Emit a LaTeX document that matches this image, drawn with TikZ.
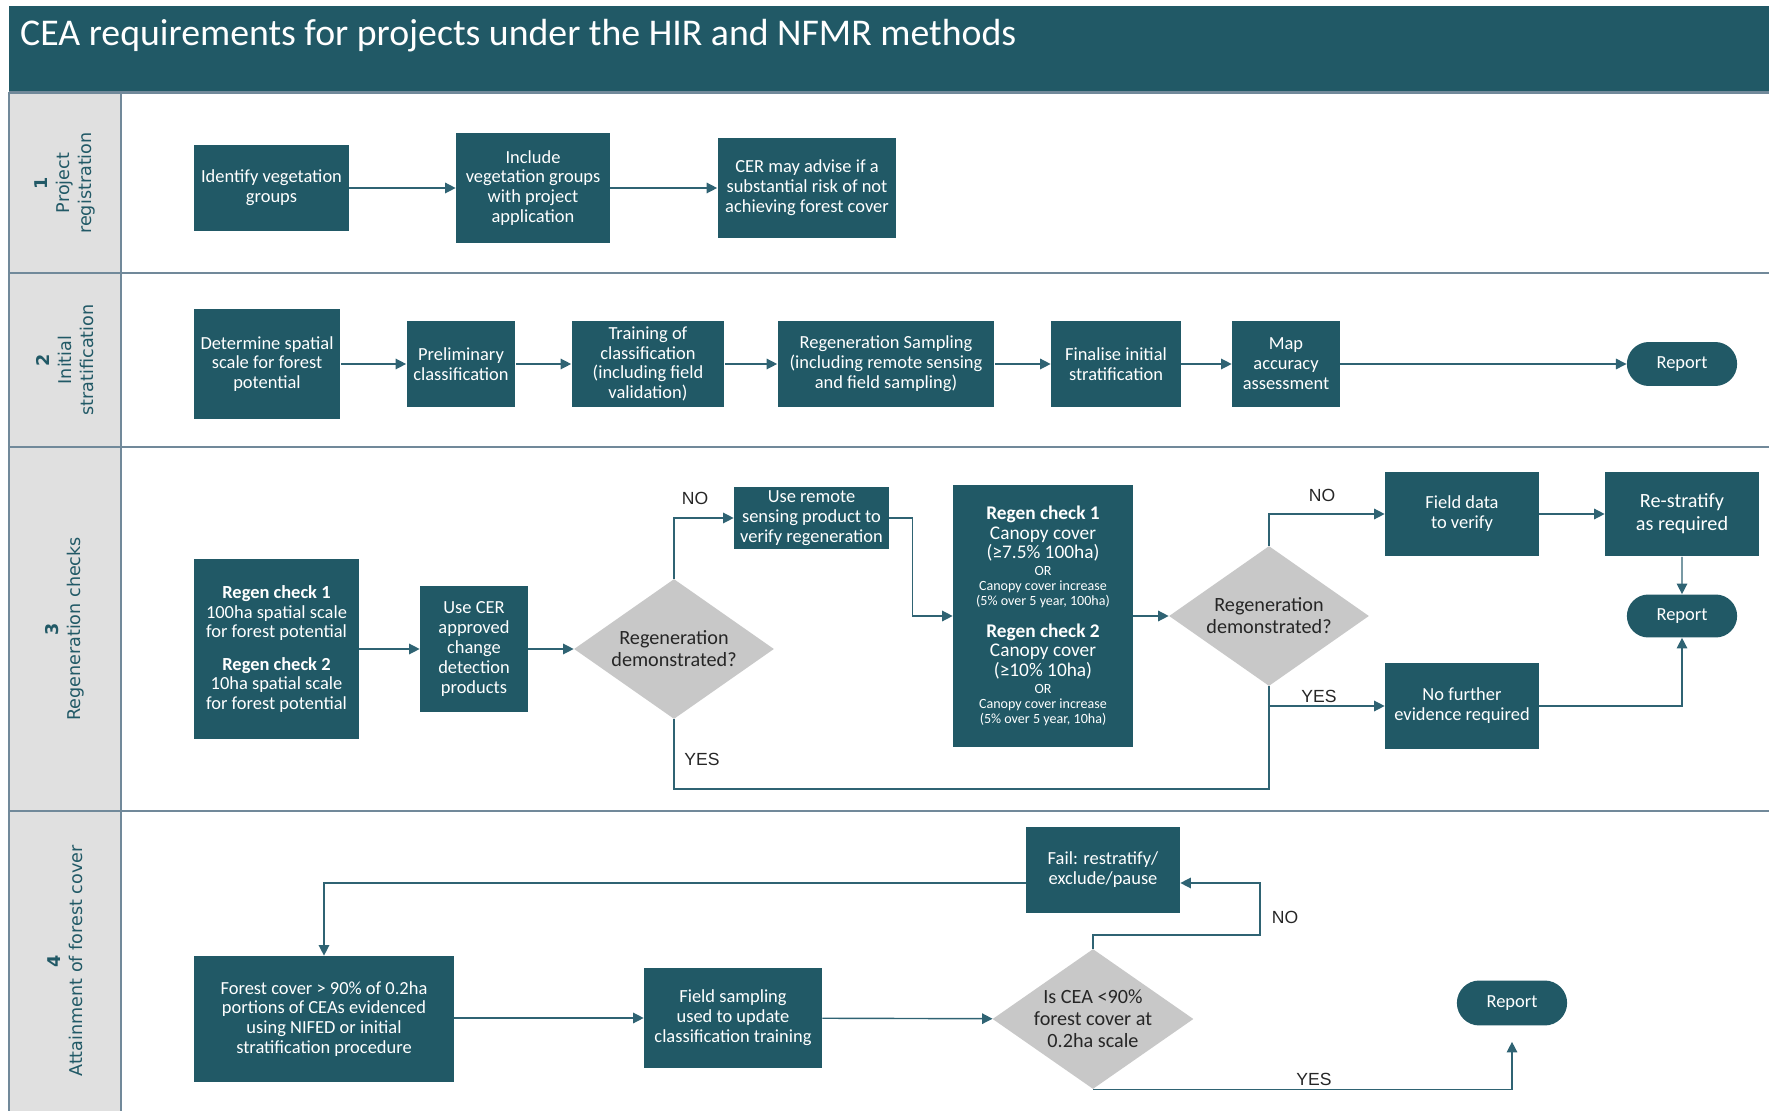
\documentclass[tikz,border=0pt]{standalone}
\usepackage{fontspec}
\setmainfont{Carlito}
\newfontfamily\lanefont{DejaVu Sans}
\newfontfamily\tagfont{Liberation Sans}
\usetikzlibrary{arrows.meta, shapes.geometric, shapes.misc}
\definecolor{cTeal}{HTML}{215966}
\definecolor{cLine}{HTML}{2F6373}
\definecolor{cLane}{HTML}{71899A}
\definecolor{cSide}{HTML}{E0E0E0}
\definecolor{cDiam}{HTML}{C8C8C8}
\definecolor{cInk}{HTML}{262626}
\newcommand{\smalltxt}[1]{{\fontsize{8}{8}\selectfont #1}}

\begin{document}
\begin{tikzpicture}[x=0.02cm, y=-0.02cm,
  stepbox/.style={rectangle, fill=cTeal, text=white, align=center, inner sep=1pt,
                  font=\fontsize{10.5}{11.3}\selectfont},
  decision/.style={diamond, shape aspect=1.43, fill=cDiam, text=cInk, align=center,
                   inner sep=0pt, minimum width=4cm, minimum height=2.8cm,
                   font=\fontsize{11.5}{12.5}\selectfont},
  report/.style={rounded rectangle, fill=cTeal, text=white, minimum width=2.44cm,
                 minimum height=0.88cm, font=\fontsize{10.5}{12}\selectfont},
  flow/.style={draw=cLine, line width=0.8pt, -{Triangle[length=6pt, width=6pt]}},
  conn/.style={draw=cLine, line width=0.8pt},
  tag/.style={font=\tagfont\fontsize{10}{12}\selectfont, text=cInk},
  lane/.style={rotate=90, align=center, text=cTeal,
               font=\lanefont\fontsize{10}{12.5}\selectfont},
]
  \useasboundingbox (0,0) rectangle (1769,1111);

  % title bar and swimlanes
  \fill[cTeal] (9,6) rectangle (1769,92.5);
  \node[anchor=west, text=white, font=\fontsize{21.5}{24}\selectfont] (title) at (14,36)
    {CEA requirements for projects under the HIR and NFMR methods};
  \fill[cSide] (9,92.5) rectangle (121,1111);
  \foreach \y in {92.5,273,447,811}
    \draw[cLane, line width=1.6pt] (9,\y) -- (1769,\y);
  \draw[cLane, line width=1.2pt] (9,92.5) -- (9,1111) (121,92.5) -- (121,1111);

  \node[lane] (lane1) at (65,183) {\textbf{1}\\Project\\registration};
  \node[lane] (lane2) at (65,360) {\textbf{2}\\Initial\\stratification};
  \node[lane] (lane3) at (65,629) {\textbf{3}\\Regeneration checks};
  \node[lane] (lane4) at (65,961) {\textbf{4}\\Attainment of forest cover};

  % 1 project registration
  \node[stepbox, minimum width=3.1cm, minimum height=1.74cm] (reg1) at (271.5,188)
    {Identify vegetation\\groups};
  \node[stepbox, minimum width=3.08cm, minimum height=2.2cm] (reg2) at (533,188)
    {Include\\vegetation groups\\with project\\application};
  \node[stepbox, minimum width=3.58cm, minimum height=2cm] (reg3) at (807,188)
    {CER may advise if a\\substantial risk of not\\achieving forest cover};
  \draw[flow] (reg1) -- (reg2);
  \draw[flow] (reg2) -- (reg3);

  % 2 initial stratification
  \node[stepbox, minimum width=2.94cm, minimum height=2.2cm] (strat1) at (267,364)
    {Determine spatial\\scale for forest\\potential};
  \node[stepbox, minimum width=2.18cm, minimum height=1.74cm] (strat2) at (461,364)
    {Preliminary\\classification};
  \node[stepbox, minimum width=3.06cm, minimum height=1.74cm] (strat3) at (648,364)
    {Training of\\classification\\(including field\\validation)};
  \node[stepbox, minimum width=4.34cm, minimum height=1.74cm] (strat4) at (886,364)
    {Regeneration Sampling\\(including remote sensing\\and field sampling)};
  \node[stepbox, minimum width=2.6cm, minimum height=1.74cm] (strat5) at (1116,364)
    {Finalise initial\\stratification};
  \node[stepbox, minimum width=2.16cm, minimum height=1.74cm] (strat6) at (1286,364)
    {Map\\accuracy\\assessment};
  \node[report] (strat7) at (1682,364) {Report};
  \foreach \a/\b in {strat1/strat2, strat2/strat3, strat3/strat4, strat4/strat5,
                     strat5/strat6, strat6/strat7}
    \draw[flow] (\a) -- (\b);

  % 3 regeneration checks
  \node[stepbox, minimum width=3.3cm, minimum height=3.62cm] (chk1) at (276.5,649)
    {\textbf{Regen check 1}\\100ha spatial scale\\for forest potential\\[7pt]
     \textbf{Regen check 2}\\10ha spatial scale\\for forest potential};
  \node[stepbox, minimum width=2.16cm, minimum height=2.52cm] (chk2) at (474,649)
    {Use CER\\approved\\change\\detection\\products};
  \node[decision] (chk3) at (674,649) {Regeneration\\demonstrated?};
  \node[stepbox, minimum width=3.1cm, minimum height=1.26cm] (chk4) at (811.5,518)
    {Use remote\\sensing product to\\verify regeneration};
  \node[stepbox, minimum width=3.6cm, minimum height=5.26cm,
        font=\fontsize{11}{11}\selectfont] (chk5) at (1043,616)
    {\textbf{Regen check 1}\\Canopy cover\\(≥7.5\% 100ha)\\[-1pt]
     \smalltxt{OR}\\[-2.5pt]\smalltxt{Canopy cover increase}\\[-2.5pt]
     \smalltxt{(5\% over 5 year, 100ha)}\\[7pt]
     \textbf{Regen check 2}\\Canopy cover\\(≥10\% 10ha)\\[-1pt]
     \smalltxt{OR}\\[-2.5pt]\smalltxt{Canopy cover increase}\\[-2.5pt]
     \smalltxt{(5\% over 5 year, 10ha)}};
  \node[decision] (chk6) at (1269,616) {Regeneration\\demonstrated?};
  \node[stepbox, minimum width=3.08cm, minimum height=1.7cm] (chk7) at (1462,514)
    {Field data\\to verify};
  \node[stepbox, minimum width=3.08cm, minimum height=1.7cm,
        font=\fontsize{11.5}{13}\selectfont] (chk8) at (1682,514)
    {Re-stratify\\as required};
  \node[report, minimum height=0.86cm] (chk9) at (1682,616) {Report};
  \node[stepbox, minimum width=3.08cm, minimum height=1.72cm] (chk10) at (1462,706)
    {No further\\evidence required};

  \draw[flow] (chk1) -- (chk2);
  \draw[flow] (chk2) -- (chk3);
  \draw[flow] (chk3.north) |- (chk4.west);
  \draw[conn] (chk3.south) |- (1269,789) -- (chk6.south |- chk10.west);
  \draw[flow] (chk4.east) -- ++(23,0) |- (chk5.west);
  \draw[flow] (chk5) -- (chk6);
  \draw[flow] (chk6.north) |- (chk7.west);
  \draw[flow] (chk6.south) |- (chk10.west);
  \draw[flow] (chk7) -- (chk8);
  \draw[flow] (chk8) -- (chk9);
  \draw[flow] (chk10.east) -| (chk9.south);
  \node[tag] (no1) at (695,498) {NO};
  \node[tag] (yes1) at (702,759) {YES};
  \node[tag] (no2) at (1322,495) {NO};
  \node[tag] (yes2) at (1319,696) {YES};

  % 4 attainment of forest cover
  \node[stepbox, minimum width=5.2cm, minimum height=2.52cm] (att1) at (324,1019)
    {Forest cover > 90\% of 0.2ha\\portions of CEAs evidenced\\using NIFED or initial\\stratification procedure};
  \node[stepbox, minimum width=3.56cm, minimum height=2cm] (att2) at (733,1018)
    {Field sampling\\used to update\\classification training};
  \node[decision, minimum width=4.02cm, inner sep=-3pt] (att3) at (1093,1019)
    {Is CEA <90\%\\forest cover at\\0.2ha scale};
  \node[stepbox, minimum width=3.08cm, minimum height=1.72cm] (att4) at (1103,870)
    {Fail: restratify/\\exclude/pause};
  \node[report, minimum width=2.44cm, minimum height=0.9cm] (att5) at (1512,1003) {Report};

  \draw[flow] (att1.east |- att2) -- (att2);
  \draw[flow] (att2) -- (att3);
  \draw[flow] (att3.north) |- (1260,935) |- ([yshift=-0.26cm]att4.east);
  \draw[flow] ([yshift=-0.26cm]att4.west) -| (att1.north);
  \draw[flow] (att3.south) -| ([yshift=-0.32cm]att5.south);
  \node[tag] (no3) at (1285,917) {NO};
  \node[tag] (yes3) at (1314,1079) {YES};
\end{tikzpicture}
\end{document}
